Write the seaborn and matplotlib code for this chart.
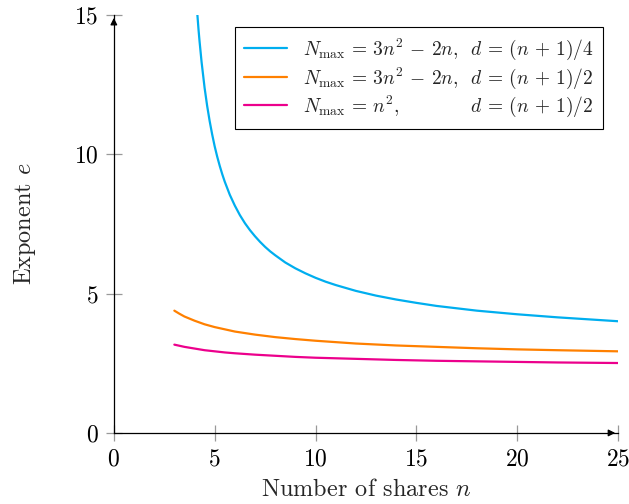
import pandas as pd
import matplotlib
matplotlib.use("Agg")
import matplotlib.pyplot as plt
import seaborn as sns

# values
n_blue = [4.1, 4.2, 4.25, 4.35, 4.5, 4.625, 4.75, 4.875, 5, 5.125, 5.25, 5.375, 5.5, 5.75,
          6, 6.25, 6.5, 6.75, 7, 7.25, 7.5, 7.75, 8, 8.5, 9, 9.5, 10, 10.5, 11, 12, 13,
          14, 15, 16, 18, 20, 22, 25]
e_blue = [15.41, 14.47, 14.06, 13.32, 12.39, 11.75, 11.20, 10.72, 10.29, 9.92, 9.59, 9.29,
          9.02, 8.55, 8.16, 7.82, 7.53, 7.28, 7.06, 6.86, 6.68, 6.52, 6.38, 6.12, 5.91,
          5.73, 5.57, 5.43, 5.31, 5.10, 4.93, 4.79, 4.67, 4.56, 4.39, 4.26, 4.15, 4.01]

n_low = [3, 3.25, 3.5, 4, 4.5, 5, 5.5, 6, 7, 8, 9, 10, 12, 14, 16, 18, 20, 22, 25]
e_orange = [4.39, 4.28, 4.18, 4.03, 3.90, 3.80, 3.72, 3.64, 3.53, 3.44, 3.37, 3.31, 3.21,
            3.14, 3.09, 3.04, 3.00, 2.97, 2.93]
e_pink = [3.17, 3.13, 3.09, 3.03, 2.97, 2.93, 2.89, 2.86, 2.81, 2.77, 2.73, 2.70, 2.66,
          2.62, 2.59, 2.57, 2.55, 2.53, 2.51]

labels = [
    r"$N_{\max}\,=\,3n^2\,-\,2n,\;\; d\,=\,(n\,+\,1)/4$",
    r"$N_{\max}\,=\,3n^2\,-\,2n,\;\; d\,=\,(n\,+\,1)/2$",
    r"$N_{\max}\,=\,n^2,\qquad\qquad d\,=\,(n\,+\,1)/2$",
]
colors = ["#00aeef", "#ff8000", "#ec008c"]

df = pd.concat([
    pd.DataFrame({"n": n_blue, "e": e_blue, "series": labels[0]}),
    pd.DataFrame({"n": n_low, "e": e_orange, "series": labels[1]}),
    pd.DataFrame({"n": n_low, "e": e_pink, "series": labels[2]}),
])

sns.set_style("ticks")
plt.rcParams["font.family"] = ["cmr10", "DejaVu Serif"]
plt.rcParams["mathtext.fontset"] = "cm"
plt.rcParams["axes.formatter.use_mathtext"] = True

fig = plt.figure(figsize=(6.29, 5.04), dpi=100)
ax = fig.add_axes([0.181, 0.141, 0.8015, 0.829])

sns.lineplot(data=df, x="n", y="e", hue="series", palette=colors, hue_order=labels,
             linewidth=1.6, errorbar=None, ax=ax)

ax.set_xlim(0, 25)
ax.set_ylim(0, 15)
ax.set_xticks([0, 5, 10, 15, 20, 25])
ax.set_yticks([0, 5, 10, 15])

for s in ["top", "right"]:
    ax.spines[s].set_visible(False)
for s in ["left", "bottom"]:
    ax.spines[s].set_color("black")
    ax.spines[s].set_linewidth(0.9)

ax.tick_params(direction="inout", length=12, width=0.9, color="#999999",
               labelsize=17, labelcolor="black", pad=5, bottom=True, left=True)

# axis arrows (pgfplots style)
ax.annotate("", xy=(1.0, 0), xytext=(0.98, 0), xycoords="axes fraction",
            arrowprops=dict(arrowstyle="-|>", color="black", lw=0.9, mutation_scale=10))
ax.annotate("", xy=(0, 1.0), xytext=(0, 0.98), xycoords="axes fraction",
            arrowprops=dict(arrowstyle="-|>", color="black", lw=0.9, mutation_scale=10))

ax.set_xlabel(r"Number of shares $n$", fontsize=17.5, labelpad=6)
ax.set_ylabel(r"Exponent $e$", fontsize=17.5, labelpad=26)

handles, lab = ax.get_legend_handles_labels()
leg = ax.legend(handles, lab, loc="upper right", bbox_to_anchor=(0.970, 0.971),
                fontsize=14, frameon=True, fancybox=False, edgecolor="black",
                framealpha=1, handlelength=2.2, handletextpad=0.8, borderpad=0.5,
                labelspacing=0.15, borderaxespad=0)
leg.get_frame().set_linewidth(0.8)

fig.savefig("out.png", dpi=100)
